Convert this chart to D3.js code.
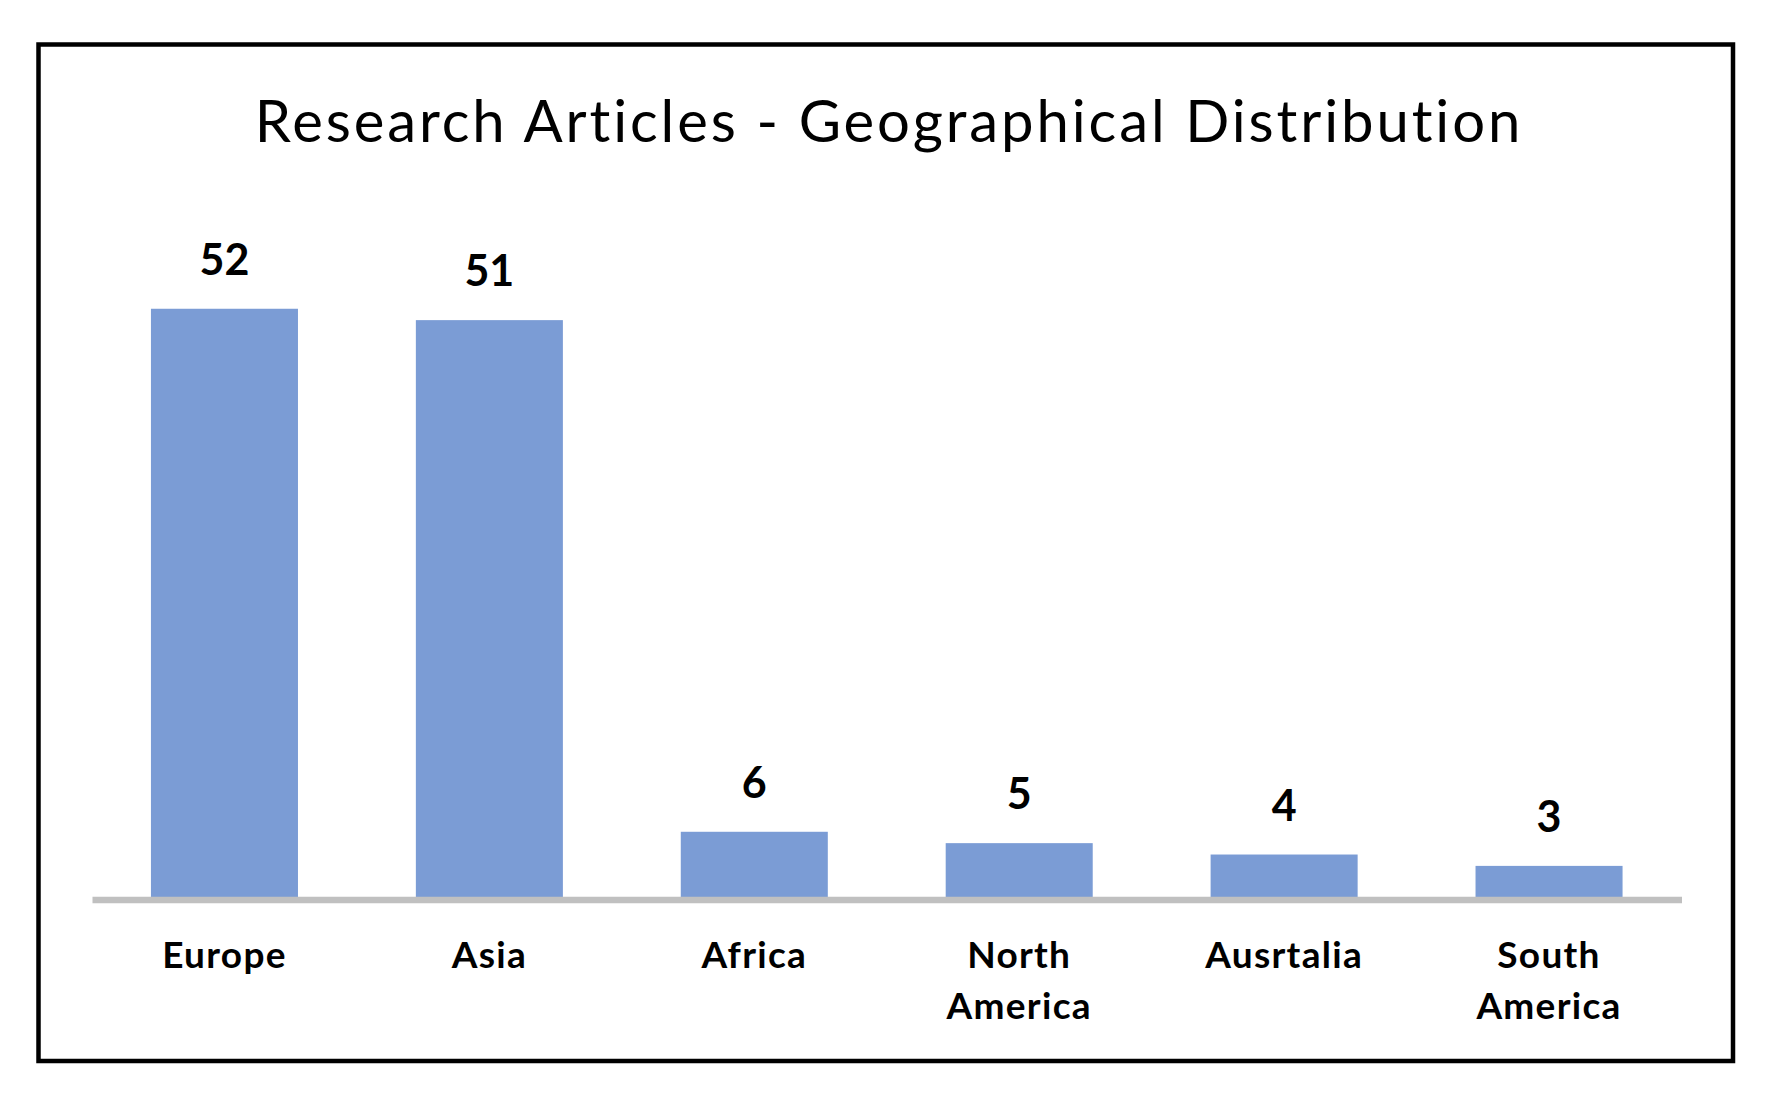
<!DOCTYPE html>
<html>
<head>
<meta charset="utf-8">
<script src="https://cdn.jsdelivr.net/npm/d3@7"></script>
<style>
  html, body { margin: 0; padding: 0; background: #ffffff; }
  svg { display: block; }
</style>
</head>
<body>
<script>
const title = "Research Articles - Geographical Distribution";
const categories = ["Europe", "Asia", "Africa", "North America", "Ausrtalia", "South America"];
const categoryLines = [["Europe"], ["Asia"], ["Africa"], ["North", "America"], ["Ausrtalia"], ["South", "America"]];
const values = [52, 51, 6, 5, 4, 3];

const W = 1769, H = 1094;
const svg = d3.select("body").append("svg").attr("width", W).attr("height", H);

svg.append("rect").attr("width", W).attr("height", H).attr("fill", "#fff");

// outer frame
svg.append("rect")
  .attr("x", 38.5).attr("y", 44.5)
  .attr("width", 1694.5).attr("height", 1016.5)
  .attr("fill", "none").attr("stroke", "#000").attr("stroke-width", 4.5);

// title
svg.append("text")
  .attr("x", 889).attr("y", 142)
  .attr("text-anchor", "middle")
  .attr("font-family", "Lato, 'Open Sans', sans-serif")
  .attr("font-size", 58)
  .attr("letter-spacing", 2.9)
  .attr("fill", "#000")
  .text(title);

const x = d3.scaleBand()
  .domain(categories)
  .range([92, 1681.5])
  .paddingInner(0.445)
  .paddingOuter(0.2225);

const y = d3.scaleLinear().domain([0, 60]).range([900, 900 - 60 * 11.37]);

// bars
svg.append("g").selectAll("rect")
  .data(values)
  .join("rect")
  .attr("x", (d, i) => x(categories[i]))
  .attr("width", x.bandwidth())
  .attr("y", d => y(d))
  .attr("height", d => y(0) - y(d))
  .attr("fill", "#7b9cd5");

// baseline axis
const xAxis = d3.axisBottom(x).tickSize(0).tickFormat("");
const axisG = svg.append("g").attr("transform", `translate(0,${y(0) - 0.5})`).call(xAxis);
axisG.select(".domain").attr("stroke", "#c0c0c0").attr("stroke-width", 6.5);

// value labels
svg.append("g").selectAll("text")
  .data(values)
  .join("text")
  .attr("x", (d, i) => x(categories[i]) + x.bandwidth() / 2)
  .attr("y", d => y(d) - 34)
  .attr("text-anchor", "middle")
  .attr("font-family", "Lato, 'Open Sans', sans-serif")
  .attr("font-weight", "bold")
  .attr("font-size", 43)
  .attr("fill", "#000")
  .text(d => d);

// category labels
const catG = svg.append("g").selectAll("text")
  .data(categoryLines)
  .join("text")
  .attr("x", (d, i) => x(categories[i]) + x.bandwidth() / 2)
  .attr("y", 968)
  .attr("text-anchor", "middle")
  .attr("font-family", "Lato, 'Open Sans', sans-serif")
  .attr("font-weight", "bold")
  .attr("font-size", 37)
  .attr("letter-spacing", 1.3)
  .attr("fill", "#000");
catG.selectAll("tspan")
  .data(d => d)
  .join("tspan")
  .attr("x", function() { return d3.select(this.parentNode).attr("x"); })
  .attr("dy", (d, i) => i === 0 ? 0 : 51)
  .text(d => d);
</script>
</body>
</html>
